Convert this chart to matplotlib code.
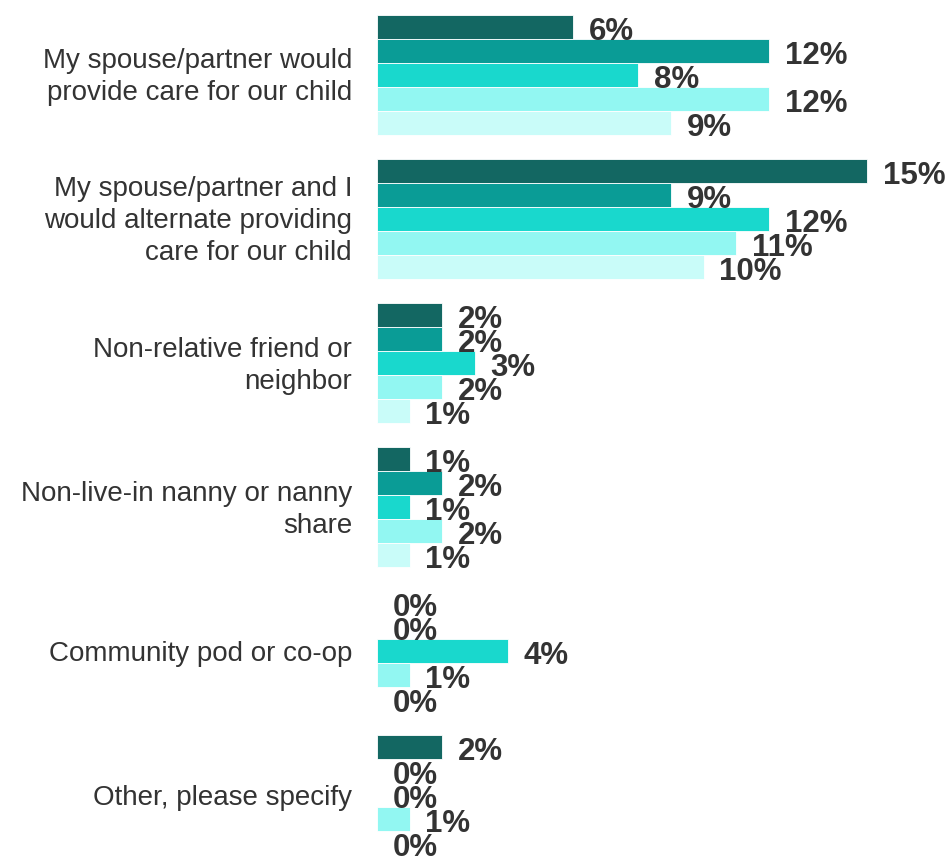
import matplotlib
matplotlib.use("Agg")
import matplotlib.pyplot as plt
import matplotlib.transforms as mtransforms
import numpy as np

categories = [
    "My spouse/partner would\nprovide care for our child",
    "My spouse/partner and I\nwould alternate providing\ncare for our child",
    "Non-relative friend or\nneighbor",
    "Non-live-in nanny or nanny\nshare",
    "Community pod or co-op",
    "Other, please specify",
]
series_1 = [6, 15, 2, 1, 0, 2]
series_2 = [12, 9, 2, 2, 0, 0]
series_3 = [8, 12, 3, 1, 4, 0]
series_4 = [12, 11, 2, 2, 1, 1]
series_5 = [9, 10, 1, 1, 0, 0]
series = [series_1, series_2, series_3, series_4, series_5]
colors = ["#136762", "#0a9c96", "#19d8cd", "#92f7f2", "#c9fcf9"]

plt.rcParams['font.family'] = ['Liberation Sans', 'DejaVu Sans']

W, H = 951, 856
fig = plt.figure(figsize=(W / 100, H / 100), dpi=100)
ax = fig.add_axes([377 / W, 0, 1 - 377 / W, 1])

px_per_unit = 32.67
ax.set_xlim(0, (W - 377) / px_per_unit)
group_px = 144.0
bar_h = 24.0 / group_px
ax.set_ylim((H - 75) / group_px, -75 / group_px)

y_cat = np.arange(len(categories))
for j, vals in enumerate(series):
    ys = y_cat + (j - 2) * bar_h
    ax.barh(ys, vals, height=bar_h, color=colors[j], edgecolor="white", linewidth=0.6)
    for y, v in zip(ys, vals):
        ax.annotate(f"{v}%", xy=(v, y), xytext=(11.2, -9.0), textcoords="offset points",
                    ha="left", va="baseline", fontsize=22.5, fontweight="bold",
                    color="#333333", annotation_clip=False)

ax.set_yticks(y_cat)
ax.set_yticklabels(categories, fontsize=20, color="#333333", linespacing=1.3)
ax.tick_params(axis="y", length=0, pad=18)
ax.set_xticks([])
for s in ax.spines.values():
    s.set_visible(False)

for lab in ax.get_yticklabels():
    if "\n" in lab.get_text():
        lab.set_transform(lab.get_transform() +
                          mtransforms.ScaledTranslation(0, 3.5 / 100, fig.dpi_scale_trans))

fig.savefig("out.png", dpi=100)
